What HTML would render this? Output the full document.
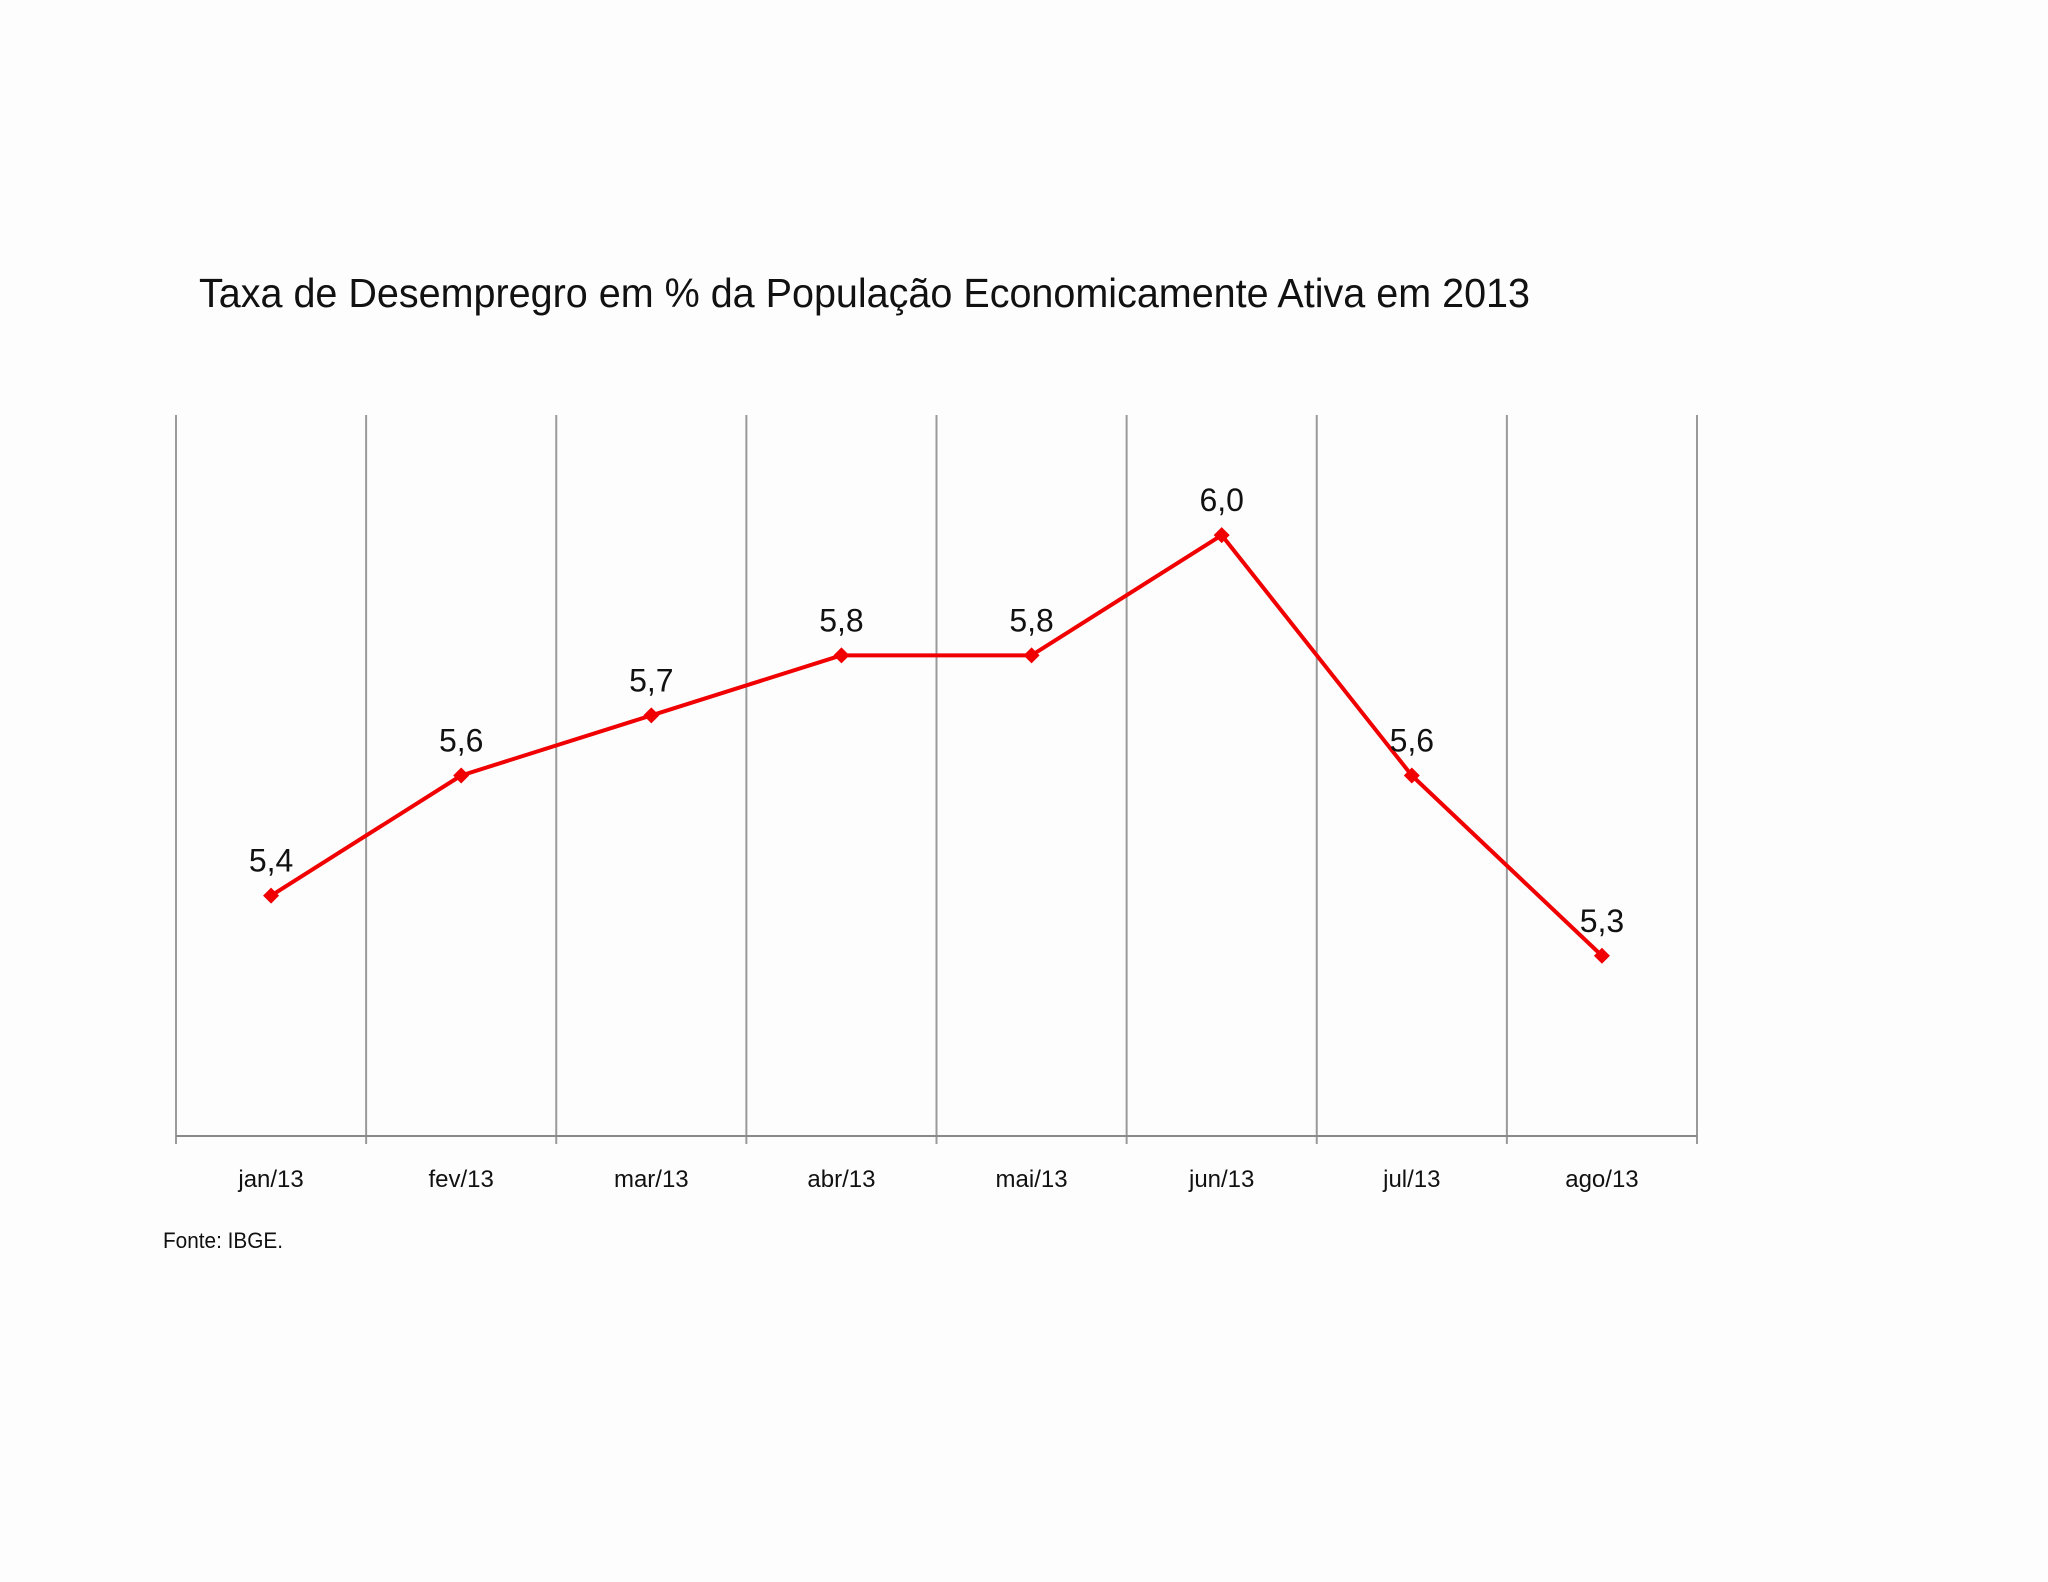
<!DOCTYPE html>
<html><head><meta charset="utf-8"><style>
html,body{margin:0;padding:0;background:#fefdfe;}
svg{display:block;font-family:"Liberation Sans",sans-serif;}
</style></head><body>
<svg id="chart" width="2048" height="1582" viewBox="0 0 2048 1582">
<rect x="0" y="0" width="2048" height="1582" fill="#fefdfe"/>
<text x="199" y="307" font-size="41" textLength="1331" lengthAdjust="spacingAndGlyphs" fill="#111">Taxa de Desempregro em % da População Economicamente Ativa em 2013</text>
<g id="grid"></g><g id="axis"></g><g id="series"></g>
<text x="163" y="1248" font-size="22" textLength="120" lengthAdjust="spacingAndGlyphs" fill="#111">Fonte: IBGE.</text>
</svg>
<script>
const categories = ["jan/13","fev/13","mar/13","abr/13","mai/13","jun/13","jul/13","ago/13"];
const values = [5.4, 5.6, 5.7, 5.8, 5.8, 6.0, 5.6, 5.3];
const valueLabels = ["5,4","5,6","5,7","5,8","5,8","6,0","5,6","5,3"];
const yMin = 5.0, yMax = 6.2;
const L = 176, R = 1697, T = 415, B = 1136;
const NS = "http://www.w3.org/2000/svg";
const band = (R - L) / categories.length;
function x(i){ return L + band * (i + 0.5); }
function y(v){ return B - (v - yMin) / (yMax - yMin) * (B - T); }
function mk(tag, attrs, parent){ const e = document.createElementNS(NS, tag); for (const k in attrs) e.setAttribute(k, attrs[k]); parent.appendChild(e); return e; }
const grid = document.getElementById('grid'), axis = document.getElementById('axis'), series = document.getElementById('series');
for (let i = 0; i <= categories.length; i++) {
  const gx = L + band * i;
  const g = mk('line', {x1: gx, x2: gx, y1: T, y2: B + 8, stroke: '#9a9a9a', 'stroke-width': 2}, grid);
  
  
}
const ax = mk('line', {x1: L, x2: R, y1: B, y2: B, stroke: '#8a8a8a', 'stroke-width': 2}, axis);


categories.forEach((c, i) => {
  const t = mk('text', {x: x(i), y: 1187, 'font-size': 24, 'text-anchor': 'middle', fill: '#111'}, axis);
  t.textContent = c;
  
  
});
const pts = values.map((v, i) => x(i) + ',' + y(v)).join(' ');
const line = mk('polyline', {points: pts, fill: 'none', stroke: '#f00000', 'stroke-width': 4, 'stroke-linejoin': 'round'}, series);


values.forEach((v, i) => {
  const cx = x(i), cy = y(v), s = 8;
  const m = mk('polygon', {points: `${cx},${cy-s} ${cx+s},${cy} ${cx},${cy+s} ${cx-s},${cy}`, fill: '#f00000'}, series);
  
  
  const t = mk('text', {x: cx, y: cy - 24, 'font-size': 32, 'text-anchor': 'middle', fill: '#111'}, series);
  t.textContent = valueLabels[i];
  
  
});
</script>
</body></html>
